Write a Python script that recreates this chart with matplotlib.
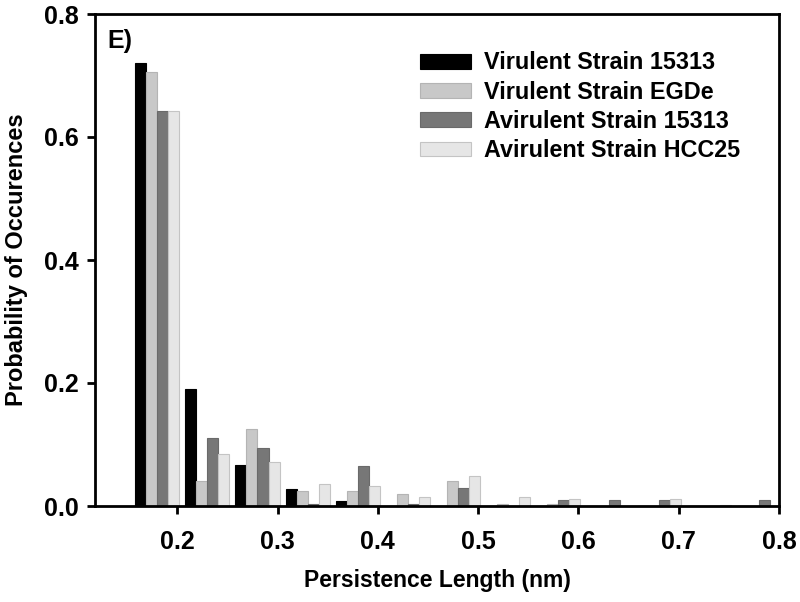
import matplotlib.pyplot as plt
import numpy as np

# bin centres (nm) and probabilities
bins = [0.18, 0.23, 0.28, 0.33, 0.38, 0.43, 0.48, 0.53, 0.58, 0.63, 0.68, 0.73, 0.78]
virulent_15313 = [0.720, 0.190, 0.066, 0.027, 0.008, 0, 0, 0, 0, 0, 0, 0, 0]
virulent_egde = [0.705, 0.040, 0.125, 0.025, 0.025, 0.020, 0.041, 0.004, 0.004, 0, 0, 0, 0]
avirulent_15313 = [0.643, 0.111, 0.095, 0.003, 0.065, 0.003, 0.029, 0, 0.009, 0.009, 0.009, 0, 0.009]
avirulent_hcc25 = [0.643, 0.084, 0.072, 0.035, 0.032, 0.015, 0.048, 0.015, 0.011, 0, 0.011, 0.0015, 0]

labels = ['Virulent Strain 15313', 'Virulent Strain EGDe',
          'Avirulent Strain 15313', 'Avirulent Strain HCC25']
colors = ['#000000', '#c8c8c8', '#777777', '#e6e6e6']
edges = ['#000000', '#b4b4b4', '#6a6a6a', '#c4c4c4']

plt.rcParams['font.family'] = ['Liberation Sans', 'DejaVu Sans']
plt.rcParams['font.weight'] = 'bold'

fig = plt.figure(figsize=(8, 6.02), dpi=100)
ax = fig.add_axes([95 / 800, 1 - 506 / 602, 684 / 800, 492 / 602])

x = np.array(bins)
w = 0.011
series = [virulent_15313, virulent_egde, avirulent_15313, avirulent_hcc25]
for i, vals in enumerate(series):
    ax.bar(x - 2 * w + i * w, vals, width=w, align='edge', color=colors[i],
           edgecolor=edges[i], linewidth=0.8, label=labels[i])

ax.set_xlim(0.118, 0.8)
ax.set_ylim(0, 0.8)
ax.set_xticks([0.2, 0.3, 0.4, 0.5, 0.6, 0.7, 0.8])
ax.set_xticklabels(['0.2', '0.3', '0.4', '0.5', '0.6', '0.7', '0.8'])
ax.set_yticks([0.0, 0.2, 0.4, 0.6, 0.8])
ax.set_yticklabels(['0.0', '0.2', '0.4', '0.6', '0.8'])

for s in ax.spines.values():
    s.set_linewidth(2)
ax.tick_params(direction='out', length=6, width=2, labelsize=18, pad=6)
ax.tick_params(axis='x', pad=11)

ax.set_xlabel('Persistence Length (nm)', fontsize=16.5, fontweight='bold', labelpad=11)
ax.set_ylabel('Probability of Occurences', fontsize=17, fontweight='bold', labelpad=11)

ax.text(0.018, 0.97, 'E)', transform=ax.transAxes, fontsize=18, fontweight='bold',
        va='top', ha='left')

ax.legend(loc='upper left', bbox_to_anchor=(0.475, 0.924), frameon=False,
          handlelength=2.2, handleheight=0.6, handletextpad=0.55,
          labelspacing=0.27, borderpad=0, borderaxespad=0,
          prop={'weight': 'bold', 'size': 16.8})

plt.savefig('out.png', dpi=100)
